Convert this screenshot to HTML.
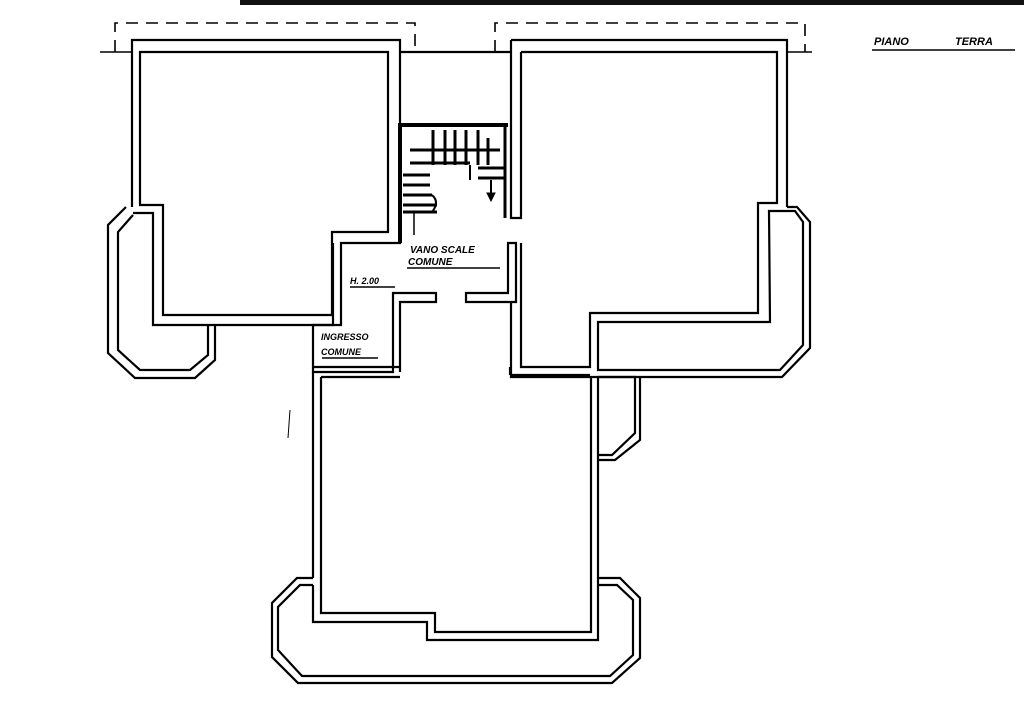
<!DOCTYPE html>
<html><head><style>
html,body{margin:0;padding:0;background:#fff;}
svg{display:block}
text{font-family:"Liberation Sans",sans-serif;font-weight:bold;font-style:italic;fill:#000}
</style></head><body>
<svg width="1024" height="709" viewBox="0 0 1024 709" xmlns="http://www.w3.org/2000/svg">
<rect x="240" y="0" width="784" height="5" fill="#111"/>
<g fill="none" stroke="#000" stroke-width="2.2" stroke-linejoin="miter">
<!-- dashed outlines -->
<path d="M115,52 V23 H415 V52" stroke-dasharray="12,8" stroke-width="1.6"/>
<path d="M495,52 V23 H805 V52" stroke-dasharray="12,8" stroke-width="1.6"/>
<path d="M100,52 H132 M787,52 H812" stroke-width="1.5"/>
<line x1="400" y1="52" x2="511" y2="52"/>
<!-- left room -->
<path d="M140,52 H388 V232 H332 V315 H163 V205 H140 Z"/>
<path d="M132,207 V40 H400 V243 H341 V325 H153 V213 H133"/>
<!-- left bay -->
<path d="M126,207 L108,225 V353 L135,378 H195 L215,360 V325"/>
<path d="M133,215 L118,232 V350 L140,370 H190 L208,355 V325"/>
<!-- stair/vano walls -->
<path d="M400,123 V243" stroke-width="4"/>
<path d="M333,243 V325 H313 V372 H393 V293 H436 V302 H400 V372"/>
<path d="M466,293 H508 V243 H516 V302 H466 Z"/>
<path d="M511,40 V218 H521 V52"/>
<path d="M521,243 V367 H590 V313 H758 V203 H777 V52 H521"/>
<path d="M511,40 H787 V207"/>
<!-- right bay -->
<path d="M787,207 H797 L810,222 V348 L782,377 H511 V302"/>
<path d="M769,211 H795 L803,222 V345 L780,370 H598 V322 H770 Z"/>
<!-- small room -->
<path d="M598,377 H635 V433 L612,455 H598"/>
<path d="M640,377 V440 L615,460 H598"/>
<!-- bottom room -->
<path d="M313,372 V578 M321,377 H400 M313,367 H400 M511,375 H590 M510,367 V375"/>
<path d="M321,377 V613 H435 V632 H591 V377"/>
<path d="M313,585 V622 H427 V640 H598 V377"/>
<path d="M313,578 H297 L272,603 V657 L298,683 H612 L640,658 V598 L620,578 H598"/>
<path d="M313,585 H300 L278,607 V650 L302,676 H610 L633,655 V600 L617,585 H598"/>
</g>
<!-- stairs -->
<g stroke="#000" fill="none">
<path d="M402,125 H508" stroke-width="4"/>
<path d="M505,125 V218" stroke-width="3"/>
<path d="M410,150 H500 M410,163 H470" stroke-width="3"/>
<path d="M433,130 V165 M445,130 V165 M455,130 V165 M466,130 V165 M478,130 V165 M488,138 V165" stroke-width="3"/>
<path d="M403,175 H430 M403,185 H430 M403,195 H432 M403,205 H437 M403,212 H437" stroke-width="3"/>
<path d="M478,168 H505 M478,178 H505" stroke-width="3"/>
<path d="M470,165 V180 M491,180 V195" stroke-width="2"/>
<path d="M432,195 Q440,202 432,212" stroke-width="2"/>
<path d="M414,212 V235" stroke-width="1.5"/>
<path d="M487,193 L495,193 L491,201 Z" fill="#000"/>
<path d="M407,268 H500 M350,287 H395 M322,358 H378 M872,50 H1015" stroke-width="1.5"/>
<path d="M290,410 L288,438" stroke-width="1"/>
</g>
<text x="410" y="253" font-size="10">VANO  SCALE</text>
<text x="408" y="265" font-size="10">COMUNE</text>
<text x="350" y="284" font-size="9">H. 2.00</text>
<text x="321" y="340" font-size="9">INGRESSO</text>
<text x="321" y="355" font-size="9">COMUNE</text>
<text x="874" y="45" font-size="11">PIANO</text>
<text x="955" y="45" font-size="11">TERRA</text>
</svg>
</body></html>
